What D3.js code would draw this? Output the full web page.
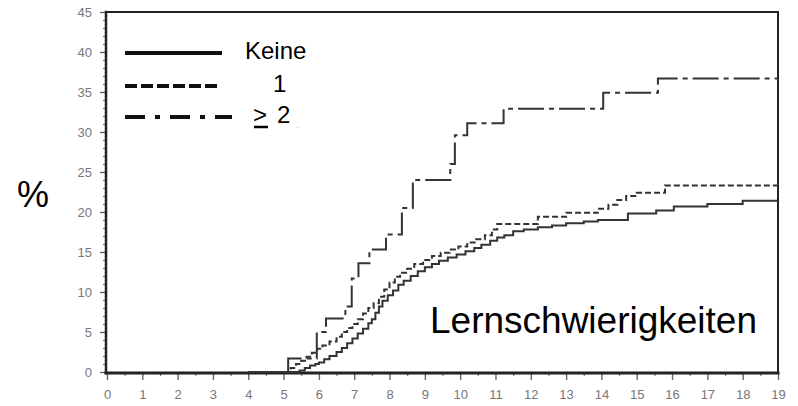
<!DOCTYPE html>
<html>
<head>
<meta charset="utf-8">
<script src="https://cdn.jsdelivr.net/npm/d3@7"></script>
<style>
  body { margin: 0; background: #fff; }
  svg { display: block; }
</style>
</head>
<body>
<svg id="chart" width="798" height="406"></svg>
<script>
// [years, percent] step points
const keine = [
  [4, 0], [5.45, 0.2], [5.6, 0.5], [5.75, 0.8], [5.9, 1.0], [6.0, 1.2], [6.15, 1.6], [6.3, 2.0],
  [6.5, 2.5], [6.65, 3.0], [6.8, 3.6], [6.95, 4.2], [7.1, 4.8], [7.25, 5.4], [7.4, 6.1], [7.5, 6.6],
  [7.6, 7.4], [7.7, 8.2], [7.8, 8.9], [7.95, 9.6], [8.1, 10.2], [8.25, 10.9], [8.4, 11.4], [8.6, 12.0],
  [8.8, 12.6], [9.0, 13.1], [9.2, 13.5], [9.4, 13.9], [9.65, 14.3], [9.9, 14.7], [10.15, 15.1],
  [10.4, 15.5], [10.6, 15.9], [10.85, 16.4], [11.05, 16.8], [11.25, 17.1], [11.5, 17.6], [11.8, 17.8],
  [12.2, 18.1], [12.6, 18.3], [13.0, 18.6], [13.5, 18.8], [13.9, 19.0], [14.75, 19.8], [15.55, 20.2],
  [16.05, 20.7], [17.0, 21.0], [18.0, 21.4], [19, 21.4]
];
const eins = [
  [4, 0], [5.2, 0.5], [5.35, 1.0], [5.5, 1.4], [5.65, 1.9], [5.8, 2.4], [5.95, 2.9], [6.1, 3.3],
  [6.3, 3.8], [6.5, 4.4], [6.65, 5.0], [6.8, 5.5], [6.95, 6.0], [7.1, 6.6], [7.25, 7.3], [7.4, 8.0],
  [7.55, 8.6], [7.7, 9.4], [7.85, 10.3], [8.0, 11.2], [8.15, 11.9], [8.3, 12.4], [8.5, 12.9],
  [8.7, 13.5], [8.95, 14.0], [9.2, 14.5], [9.45, 14.9], [9.7, 15.3], [9.95, 15.7], [10.2, 16.2],
  [10.45, 16.6], [10.7, 17.1], [10.9, 17.8], [11.05, 18.5], [12.2, 19.4], [13.0, 19.9], [13.9, 20.4],
  [14.2, 20.9], [14.45, 21.5], [14.7, 22.0], [15.0, 22.4], [15.8, 23.3], [19, 23.3]
];
const zweiPlus = [
  [4, 0], [5.13, 1.7], [5.94, 5.0], [6.2, 6.7], [6.75, 8.2], [6.93, 11.7], [7.12, 13.6], [7.43, 15.3],
  [7.9, 17.2], [8.35, 20.5], [8.66, 24.0], [9.72, 26.0], [9.85, 29.6], [10.2, 31.1], [11.23, 32.9],
  [14.05, 34.9], [15.6, 36.7], [19, 36.7]
];

const xTicks = [0, 1, 2, 3, 4, 5, 6, 7, 8, 9, 10, 11, 12, 13, 14, 15, 16, 17, 18, 19];
const yTicks = [0, 5, 10, 15, 20, 25, 30, 35, 40, 45];
const legendLabels = ["Keine", "1", "2"];

const svg = d3.select("#chart");
const x = d3.scaleLinear().domain([0, 19]).range([107, 778]);
const y = d3.scaleLinear().domain([0, 45]).range([372, 12]);

const tickFont = "'Liberation Sans Narrow', 'Liberation Sans', Arial, sans-serif";
const textFont = "'Liberation Sans', Arial, sans-serif";

// minor ticks
svg.append("g")
  .attr("transform", `translate(0,${y(0)})`)
  .call(d3.axisBottom(x).tickValues(d3.range(0.5, 19, 1)).tickSize(4).tickFormat(""))
  .call(g => g.select(".domain").remove())
  .call(g => g.selectAll("line").attr("stroke", "#777").attr("stroke-width", 1.2));
svg.append("g")
  .attr("transform", `translate(${x(0)},0)`)
  .call(d3.axisLeft(y).tickValues(d3.range(0, 46, 1)).tickSize(4).tickFormat(""))
  .call(g => g.select(".domain").remove())
  .call(g => g.selectAll("line").attr("stroke", "#777").attr("stroke-width", 1.2));

// major ticks and labels
svg.append("g")
  .attr("transform", `translate(0,${y(0)})`)
  .call(d3.axisBottom(x).tickValues(xTicks).tickSize(8).tickPadding(10))
  .call(g => g.select(".domain").remove())
  .call(g => g.selectAll("line").attr("stroke", "#666").attr("stroke-width", 1.4))
  .call(g => g.selectAll("text").attr("fill", "#777")
    .style("font-family", tickFont).style("font-size", "13px"));
svg.append("g")
  .attr("transform", `translate(${x(0)},0)`)
  .call(d3.axisLeft(y).tickValues(yTicks).tickSize(7).tickPadding(8))
  .call(g => g.select(".domain").remove())
  .call(g => g.selectAll("line").attr("stroke", "#666").attr("stroke-width", 1.4))
  .call(g => g.selectAll("text").attr("fill", "#777")
    .style("font-family", tickFont).style("font-size", "13px"));

// frame, one side at a time
const x0 = x(0) - 1, x1 = x(19), yTop = y(45), yBot = y(0) + 1;
const frame = svg.append("g").attr("stroke", "#222").attr("stroke-linecap", "square");
frame.append("line").attr("x1", x0).attr("x2", x1).attr("y1", yTop).attr("y2", yTop).attr("stroke-width", 2);
frame.append("line").attr("x1", x1).attr("x2", x1).attr("y1", yTop).attr("y2", yBot).attr("stroke-width", 2);
frame.append("line").attr("x1", x0).attr("x2", x0).attr("y1", yTop).attr("y2", yBot).attr("stroke-width", 2.5);
frame.append("line").attr("x1", x0).attr("x2", x1).attr("y1", yBot).attr("y2", yBot).attr("stroke-width", 3);

// curves
const line = d3.line()
  .x(d => x(d[0]))
  .y(d => y(d[1]))
  .curve(d3.curveStepAfter);

const series = [
  { data: keine, dash: null },
  { data: eins, dash: "6,3" },
  { data: zweiPlus, dash: "26,5,5,5" }
];

svg.append("g")
  .selectAll("path")
  .data(series)
  .join("path")
  .attr("d", d => line(d.data))
  .attr("fill", "none")
  .attr("stroke", "#333")
  .attr("stroke-width", 2)
  .attr("stroke-dasharray", d => d.dash);

// legend
const legend = svg.append("g");
const legendRows = [
  { y: 53, x2: 222, dash: null, label: legendLabels[0], tx: 245 },
  { y: 86, x2: 217, dash: "12,4", label: legendLabels[1], tx: 273 },
  { y: 117, x2: 232, dash: "20,10,5,10", label: legendLabels[2], tx: 277 }
];
legend.selectAll("line")
  .data(legendRows)
  .join("line")
  .attr("x1", 125).attr("x2", d => d.x2)
  .attr("y1", d => d.y).attr("y2", d => d.y)
  .attr("stroke", "#111").attr("stroke-width", 4)
  .attr("stroke-dasharray", d => d.dash);
legend.selectAll("text.lbl")
  .data(legendRows)
  .join("text")
  .attr("class", "lbl")
  .attr("x", d => d.tx).attr("y", d => d.y + 6)
  .style("font-family", textFont).style("font-size", "24px")
  .text(d => d.label);
// the ">" with a bar under it, as in the picture
legend.append("text")
  .attr("x", 253).attr("y", 123)
  .style("font-family", textFont).style("font-size", "24px")
  .text(">");
legend.append("line")
  .attr("x1", 254).attr("x2", 268).attr("y1", 127).attr("y2", 127)
  .attr("stroke", "#000").attr("stroke-width", 2.5);
legend.append("text")
  .attr("x", 297).attr("y", 128)
  .style("font-family", textFont).style("font-size", "6px")
  .text(".");

// axis title and panel label
svg.append("text")
  .attr("x", 17).attr("y", 207)
  .style("font-family", textFont).style("font-size", "36px")
  .text("%");
svg.append("text")
  .attr("x", 430).attr("y", 333)
  .style("font-family", textFont).style("font-size", "37px")
  .text("Lernschwierigkeiten");
</script>
</body>
</html>
